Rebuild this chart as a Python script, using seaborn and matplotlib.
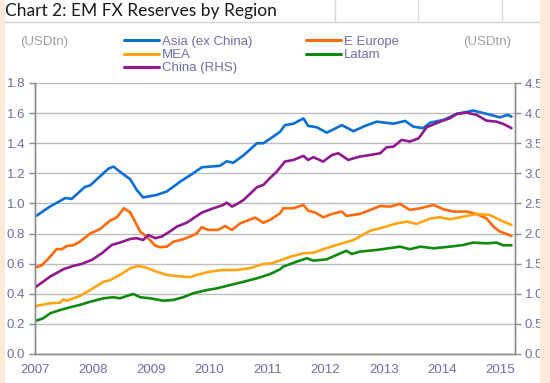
import matplotlib
matplotlib.use("Agg")
import matplotlib.pyplot as plt
import seaborn as sns
from matplotlib.lines import Line2D
from matplotlib.patches import Rectangle
from matplotlib.ticker import FormatStrFormatter

# --- data (x in decimal years, USD trn) ---
asia_x = [2007.02, 2007.26, 2007.52, 2007.63, 2007.86, 2007.95, 2008.26, 2008.35, 2008.43, 2008.64,
          2008.75, 2008.86, 2009.09, 2009.27, 2009.50, 2009.72, 2009.87, 2010.18, 2010.30, 2010.41,
          2010.59, 2010.82, 2010.93, 2011.10, 2011.22, 2011.30, 2011.45, 2011.62, 2011.70, 2011.85,
          2012.02, 2012.28, 2012.48, 2012.68, 2012.88, 2013.17, 2013.37, 2013.51, 2013.68, 2013.80,
          2014.03, 2014.26, 2014.54, 2014.77, 2015.00, 2015.13, 2015.20]
asia_y = [0.917, 0.98, 1.036, 1.03, 1.11, 1.12, 1.23, 1.245, 1.22, 1.16,
          1.09, 1.04, 1.056, 1.08, 1.145, 1.2, 1.24, 1.25, 1.28, 1.27,
          1.32, 1.40, 1.40, 1.444, 1.477, 1.52, 1.53, 1.565, 1.515, 1.506,
          1.47, 1.52, 1.48, 1.515, 1.543, 1.53, 1.548, 1.51, 1.50, 1.537,
          1.555, 1.595, 1.617, 1.595, 1.572, 1.588, 1.577]

eeur_x = [2007.02, 2007.12, 2007.26, 2007.37, 2007.46, 2007.55, 2007.66, 2007.77, 2007.95, 2008.12,
          2008.29, 2008.41, 2008.53, 2008.64, 2008.72, 2008.81, 2008.92, 2009.07, 2009.15, 2009.27,
          2009.38, 2009.55, 2009.67, 2009.78, 2009.87, 2009.98, 2010.15, 2010.27, 2010.39, 2010.53,
          2010.64, 2010.79, 2010.93, 2011.04, 2011.22, 2011.27, 2011.45, 2011.62, 2011.70, 2011.82,
          2011.96, 2012.11, 2012.28, 2012.36, 2012.59, 2012.77, 2012.94, 2013.11, 2013.28, 2013.45,
          2013.63, 2013.86, 2014.03, 2014.20, 2014.43, 2014.60, 2014.77, 2014.89, 2015.00, 2015.12,
          2015.20]
eeur_y = [0.576, 0.59, 0.646, 0.696, 0.696, 0.718, 0.722, 0.746, 0.80, 0.83,
          0.886, 0.908, 0.968, 0.94, 0.88, 0.813, 0.78, 0.72, 0.709, 0.713,
          0.746, 0.762, 0.78, 0.80, 0.842, 0.824, 0.824, 0.85, 0.824, 0.868,
          0.884, 0.906, 0.872, 0.89, 0.935, 0.968, 0.968, 0.99, 0.952, 0.94,
          0.908, 0.93, 0.946, 0.917, 0.93, 0.957, 0.983, 0.979, 0.997, 0.957,
          0.968, 0.99, 0.961, 0.946, 0.946, 0.93, 0.90, 0.846, 0.813, 0.797,
          0.784]

mea_x = [2007.02, 2007.26, 2007.43, 2007.49, 2007.55, 2007.66, 2007.77, 2007.95, 2008.18, 2008.29,
         2008.46, 2008.64, 2008.78, 2008.89, 2009.09, 2009.27, 2009.44, 2009.67, 2009.78, 2010.01,
         2010.24, 2010.47, 2010.70, 2010.93, 2011.07, 2011.22, 2011.39, 2011.62, 2011.79, 2011.96,
         2012.19, 2012.48, 2012.77, 2012.94, 2013.23, 2013.40, 2013.57, 2013.80, 2013.97, 2014.14,
         2014.37, 2014.60, 2014.83, 2015.00, 2015.20]
mea_y = [0.319, 0.337, 0.341, 0.363, 0.354, 0.37, 0.385, 0.425, 0.48, 0.49,
         0.525, 0.57, 0.585, 0.576, 0.547, 0.525, 0.518, 0.51, 0.525, 0.547,
         0.558, 0.558, 0.57, 0.598, 0.602, 0.622, 0.646, 0.669, 0.673, 0.696,
         0.724, 0.757, 0.819, 0.835, 0.868, 0.879, 0.864, 0.90, 0.908, 0.895,
         0.912, 0.93, 0.923, 0.89, 0.857]

latam_x = [2007.02, 2007.14, 2007.26, 2007.43, 2007.60, 2007.77, 2007.95, 2008.18, 2008.35, 2008.46,
           2008.58, 2008.69, 2008.81, 2008.98, 2009.21, 2009.38, 2009.55, 2009.72, 2009.96, 2010.13,
           2010.36, 2010.59, 2010.82, 2011.04, 2011.22, 2011.27, 2011.50, 2011.68, 2011.79, 2012.02,
           2012.19, 2012.36, 2012.45, 2012.59, 2012.88, 2013.28, 2013.45, 2013.63, 2013.86, 2014.14,
           2014.37, 2014.54, 2014.77, 2014.94, 2015.06, 2015.20]
latam_y = [0.221, 0.237, 0.27, 0.292, 0.31, 0.326, 0.347, 0.37, 0.377, 0.37,
           0.385, 0.399, 0.377, 0.37, 0.354, 0.359, 0.377, 0.403, 0.425, 0.436,
           0.458, 0.48, 0.503, 0.53, 0.563, 0.58, 0.613, 0.636, 0.62, 0.629,
           0.658, 0.686, 0.664, 0.68, 0.691, 0.713, 0.696, 0.713, 0.702, 0.713,
           0.724, 0.74, 0.735, 0.74, 0.722, 0.722]

china_x = [2007.02, 2007.26, 2007.49, 2007.66, 2007.80, 2007.98, 2008.15, 2008.32, 2008.46, 2008.64,
           2008.75, 2008.86, 2008.95, 2009.07, 2009.18, 2009.32, 2009.44, 2009.61, 2009.72, 2009.87,
           2010.07, 2010.24, 2010.30, 2010.39, 2010.47, 2010.59, 2010.82, 2010.93, 2011.04, 2011.16,
           2011.30, 2011.45, 2011.62, 2011.70, 2011.79, 2011.96, 2012.11, 2012.22, 2012.39, 2012.59,
           2012.77, 2012.94, 2013.05, 2013.17, 2013.31, 2013.45, 2013.60, 2013.74, 2013.97, 2014.14,
           2014.26, 2014.43, 2014.60, 2014.77, 2014.94, 2015.06, 2015.20]
china_y = [1.118, 1.285, 1.408, 1.463, 1.495, 1.563, 1.673, 1.81, 1.85, 1.91,
           1.923, 1.893, 1.975, 1.923, 1.95, 2.033, 2.115, 2.18, 2.25, 2.348,
           2.42, 2.475, 2.513, 2.448, 2.488, 2.558, 2.77, 2.808, 2.918, 3.028,
           3.195, 3.223, 3.29, 3.223, 3.268, 3.195, 3.305, 3.333, 3.223, 3.278,
           3.305, 3.333, 3.433, 3.443, 3.555, 3.528, 3.58, 3.765, 3.858, 3.915,
           3.988, 4.008, 3.97, 3.875, 3.858, 3.82, 3.75]

left_ticks = [0.0, 0.2, 0.4, 0.6, 0.8, 1.0, 1.2, 1.4, 1.6, 1.8]
right_ticks = [0.0, 0.5, 1.0, 1.5, 2.0, 2.5, 3.0, 3.5, 4.0, 4.5]
year_ticks = [2007, 2008, 2009, 2010, 2011, 2012, 2013, 2014, 2015]

series = [
    ("Asia (ex China)", asia_x, asia_y, "#0B6FD6"),
    ("E Europe", eeur_x, eeur_y, "#FF6A0A"),
    ("MEA", mea_x, mea_y, "#FFA512"),
    ("Latam", latam_x, latam_y, "#118A11"),
]
china_color = "#8E1A8E"

TICK_COLOR = "#6F6FA6"
GRID_COLOR = "#BDBDBD"
PEACH = "#FCEAD6"

sns.set_style("white")
plt.rcParams["font.family"] = ["Liberation Sans", "DejaVu Sans"]

fig = plt.figure(figsize=(5.5, 3.83), dpi=100)
ax = fig.add_axes([35 / 550, 29 / 383, 480 / 550, 271 / 383])

for name, xs, ys, color in series:
    sns.lineplot(x=xs, y=ys, ax=ax, color=color, linewidth=1.9, legend=False)

ax2 = ax.twinx()
sns.lineplot(x=china_x, y=china_y, ax=ax2, color=china_color, linewidth=1.9, legend=False)

ax.set_xlim(2007, 2015.26)
ax.set_ylim(0, 1.8)
ax2.set_ylim(0, 4.5)
ax.set_xticks(year_ticks)
ax.set_xticklabels([str(y) for y in year_ticks])
ax.set_yticks(left_ticks)
ax2.set_yticks(right_ticks)
ax.yaxis.set_major_formatter(FormatStrFormatter("%.1f"))
ax2.yaxis.set_major_formatter(FormatStrFormatter("%.1f"))
ax.set_xlabel("")
ax.set_ylabel("")
ax2.set_ylabel("")

ax.grid(axis="y", color=GRID_COLOR, linewidth=1.0)
ax.grid(axis="x", visible=False)
ax2.grid(False)
for a in (ax, ax2):
    for side in ("left", "right", "bottom"):
        a.spines[side].set_visible(True)
        a.spines[side].set_color("#8C8C8C")
        a.spines[side].set_linewidth(1.0)
    a.spines["top"].set_visible(False)
    a.tick_params(axis="both", which="major", direction="out", length=4, width=1,
                  color="#8C8C8C", labelcolor=TICK_COLOR, labelsize=9.5, pad=3)

# legend in two blocks
handles = {name: Line2D([], [], color=color, lw=2.2) for name, _, _, color in series}
handles["China (RHS)"] = Line2D([], [], color=china_color, lw=2.2)
col1 = ["Asia (ex China)", "MEA", "China (RHS)"]
col2 = ["E Europe", "Latam"]
leg_kw = dict(frameon=False, fontsize=9.5, handlelength=2.7, handletextpad=0.2,
              labelspacing=0.08, borderpad=0, loc="upper left", labelcolor=TICK_COLOR)
fig.legend([handles[n] for n in col1], col1, bbox_to_anchor=(117 / 550, 1 - 29 / 383), **leg_kw)
fig.legend([handles[n] for n in col2], col2, bbox_to_anchor=(299 / 550, 1 - 29 / 383), **leg_kw)

fig.text(20 / 550, 1 - 42 / 383, "(USDtn)", fontsize=9.5, color="#A0A0A0", va="center")
fig.text(463 / 550, 1 - 42 / 383, "(USDtn)", fontsize=9.5, color="#A0A0A0", va="center")

# spreadsheet header cell lines
fig.add_artist(Line2D([5 / 550, 540 / 550], [1 - 22 / 383] * 2, color="#D4D4D4", lw=1))
for xc in (335, 418, 502):
    fig.add_artist(Line2D([xc / 550] * 2, [1 - 22 / 383, 1], color="#D9D9D9", lw=1))

fig.text(5 / 550, 1 - 11 / 383, "Chart 2: EM FX Reserves by Region", fontsize=12.5,
         family=["Lato", "DejaVu Sans"], color="#1A1A1A", va="center", ha="left")

# peach borders on both sides, drawn over everything
fig.add_artist(Rectangle((0, 0), 5 / 550, 1, transform=fig.transFigure,
                         facecolor=PEACH, edgecolor="none", zorder=10))
fig.add_artist(Rectangle((540 / 550, 0), 10 / 550, 1, transform=fig.transFigure,
                         facecolor=PEACH, edgecolor="none", zorder=10))

fig.savefig("out.png", dpi=100)
